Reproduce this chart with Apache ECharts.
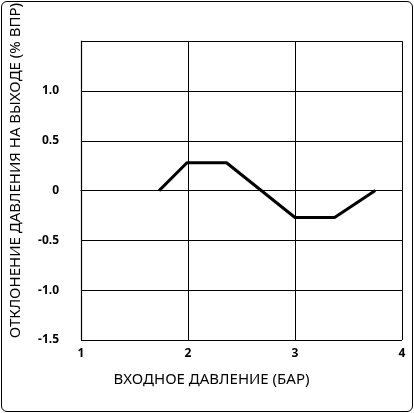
<!DOCTYPE html>
<html>
<head>
<meta charset="utf-8">
<script src="https://cdn.jsdelivr.net/npm/echarts@6/dist/echarts.min.js"></script>
<style>
  html, body { margin: 0; padding: 0; background: #fff; }
  #frame { position: absolute; left: 1px; top: 1px; width: 410px; height: 409px; border: 1.5px solid #000; border-radius: 6px; }
  #chart { width: 414px; height: 413px; }
</style>
</head>
<body>
<div id="frame"></div>
<div id="chart"></div>
<script>
const pressureX = [1.73, 1.99, 2.36, 3.0, 3.37, 3.75];
const deviationY = [0, 0.28, 0.28, -0.27, -0.27, 0];
const xTickLabels = ['1', '2', '3', '4'];
const yTickLabels = { '-1.5': '-1.5', '-1': '-1.0', '-0.5': '-0.5', '0': '0', '0.5': '0.5', '1': '1.0' };

const chart = echarts.init(document.getElementById('chart'));
const option = {
    animation: false,
    grid: { left: 78, right: 12, top: 10, bottom: 73 },
    xAxis: {
        type: 'value',
        min: 1, max: 4, interval: 1,
        name: 'ВХОДНОЕ ДАВЛЕНИЕ (БАР)',
        nameLocation: 'middle',
        nameGap: 32,
        nameTextStyle: { color: '#000', fontSize: 15, fontFamily: 'Noto Sans', padding: [0, 60, 0, 0] },
        axisLine: { lineStyle: { color: '#000', width: 1.2 } },
        axisTick: { show: false },
        axisLabel: {
            color: '#000', fontSize: 12, fontWeight: 'bold', fontFamily: 'Noto Sans',
            formatter: v => xTickLabels[Math.round(v) - 1] || ''
        },
        splitLine: { lineStyle: { color: '#000', width: 1 } }
    },
    yAxis: {
        type: 'value',
        min: -1.5, max: 1.5, interval: 0.5,
        name: 'ОТКЛОНЕНИЕ ДАВЛЕНИЯ НА ВЫХОДЕ (% ВПР)',
        nameLocation: 'middle',
        nameGap: 58,
        nameTextStyle: { color: '#000', fontSize: 15, fontFamily: 'Noto Sans', padding: [0, 0, 0, 40] },
        axisLine: { show: true, lineStyle: { color: '#000', width: 1.2 } },
        axisTick: { show: false },
        axisLabel: {
            color: '#000', fontSize: 12, fontWeight: 'bold', fontFamily: 'Noto Sans', margin: 22,
            formatter: v => yTickLabels[String(v)] || ''
        },
        splitLine: { lineStyle: { color: '#000', width: 1 } }
    },
    series: [{
        type: 'line',
        data: pressureX.map((x, i) => [x, deviationY[i]]),
        symbol: 'none',
        lineStyle: { color: '#000', width: 3 }
    }]
};
chart.setOption(option);
</script>
</body>
</html>
